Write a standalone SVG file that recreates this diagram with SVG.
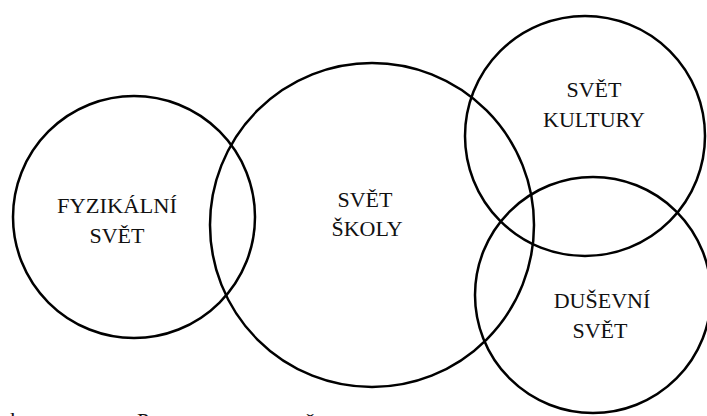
<svg xmlns="http://www.w3.org/2000/svg" width="707" height="416" viewBox="0 0 707 416">
<style>
.c{fill:none;stroke:#000;stroke-width:2.5}
.t{font-family:"Liberation Serif","DejaVu Serif",serif;font-size:22px;fill:#111;text-anchor:middle}
.b{font-family:"Liberation Serif","DejaVu Serif",serif;font-size:22px;fill:#111}
</style>
<rect width="707" height="416" fill="#fff"/>
<g id="fyzikalni">
<circle class="c" cx="134" cy="217" r="121"/>
<text class="t" x="117" y="213" textLength="120" lengthAdjust="spacingAndGlyphs">FYZIKÁLNÍ</text>
<text class="t" x="117" y="243">SVĚT</text>
</g>
<g id="skoly">
<circle class="c" cx="372" cy="225" r="162"/>
<text class="t" x="365" y="207">SVĚT</text>
<text class="t" x="367" y="236">ŠKOLY</text>
</g>
<g id="kultury">
<circle class="c" cx="585" cy="136" r="120"/>
<text class="t" x="594" y="97">SVĚT</text>
<text class="t" x="594" y="127">KULTURY</text>
</g>
<g id="dusevni">
<circle class="c" cx="593" cy="295" r="118"/>
<text class="t" x="602" y="308">DUŠEVNÍ</text>
<text class="t" x="600" y="338">SVĚT</text>
</g>
<g id="caption">
<text class="b" x="10" y="427">k</text>
<text class="b" x="137" y="428">P</text>
<text class="b" x="305" y="428">ět</text>
</g>
</svg>
